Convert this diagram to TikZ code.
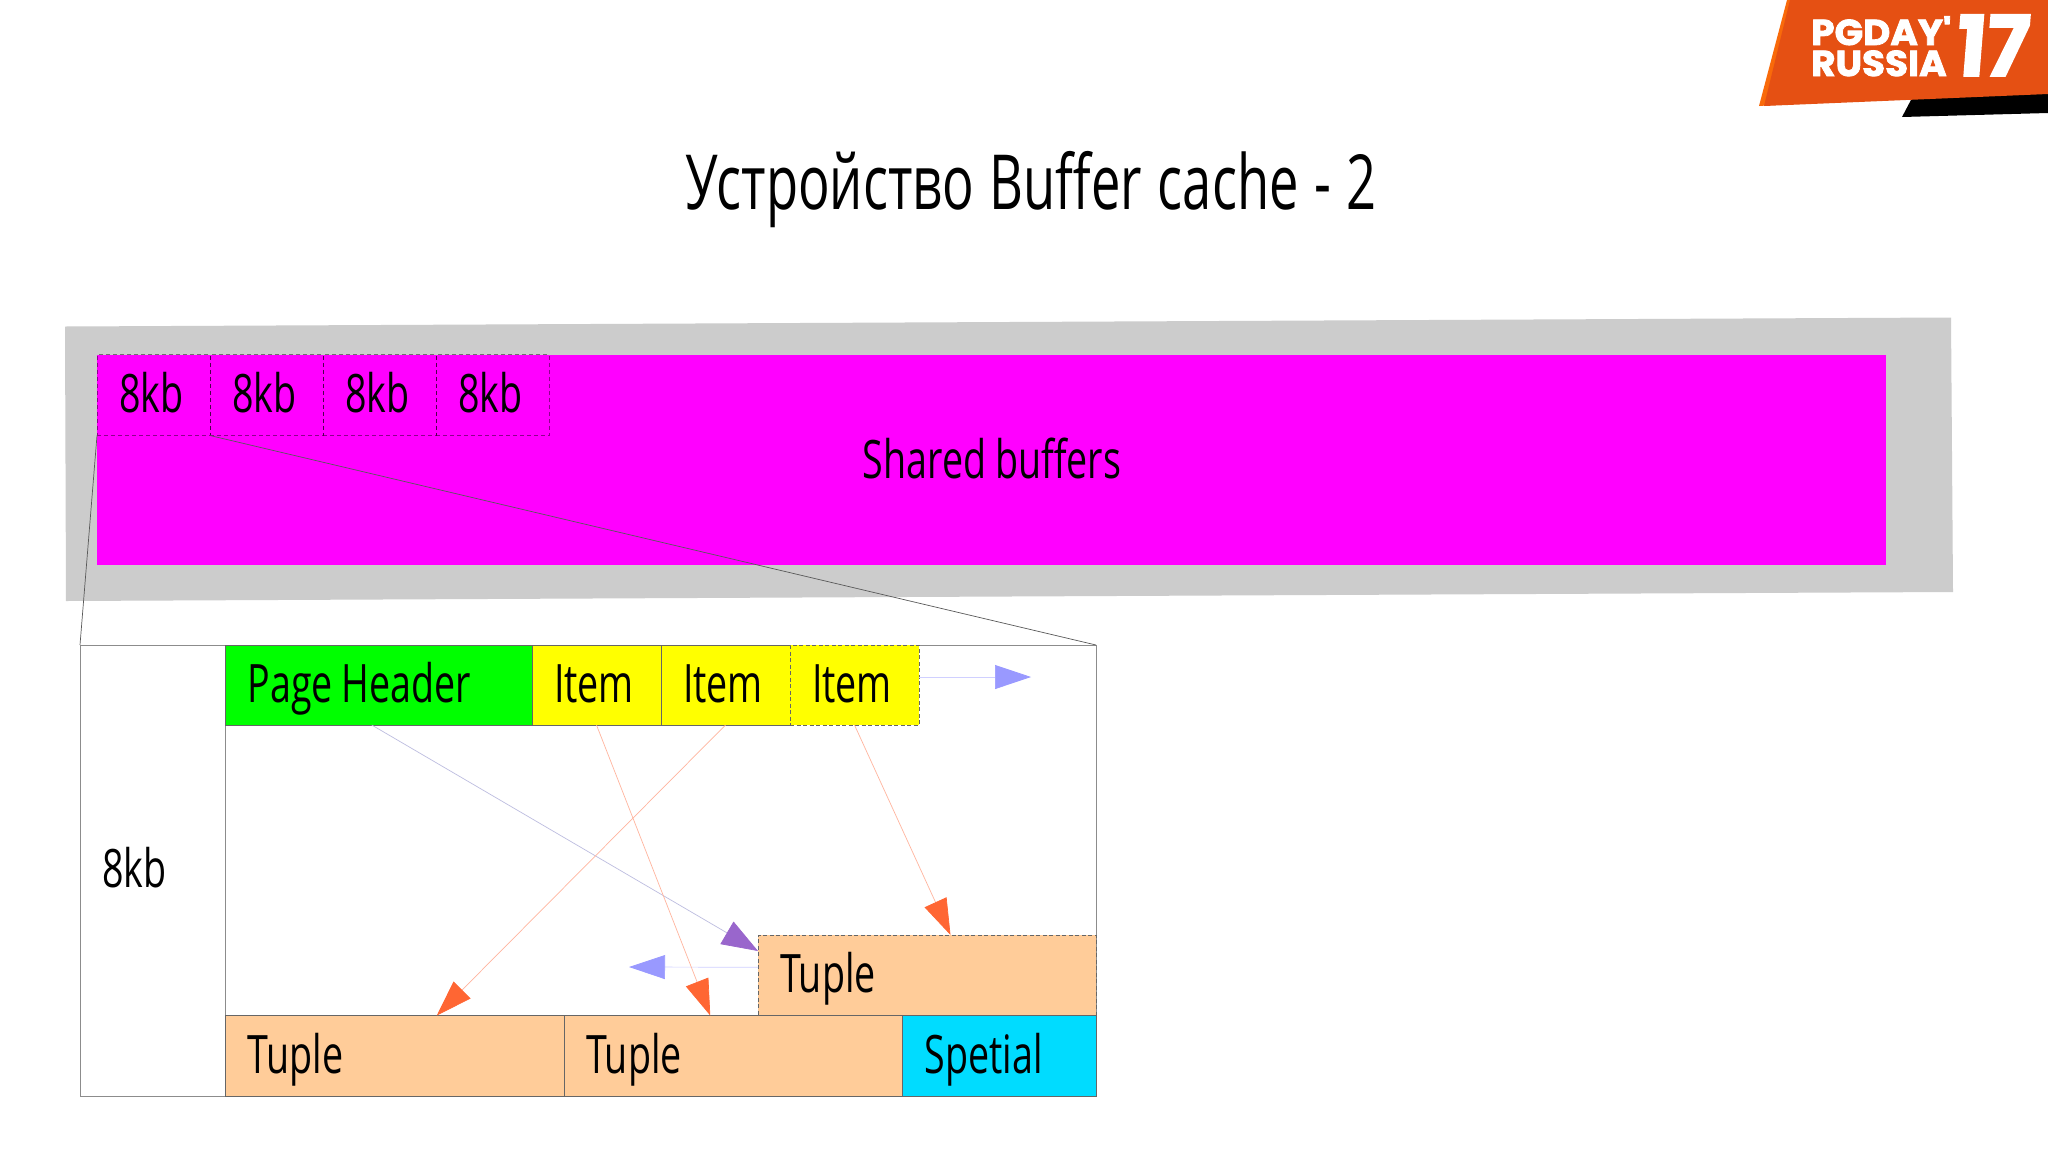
\documentclass[tikz,border=0pt]{standalone}
\usepackage{fontspec}
\usetikzlibrary{arrows.meta}
\setmainfont{Open Sans}[FakeStretch=0.71,WordSpace=0.9]
\newfontfamily\titlefont{Open Sans}[FakeStretch=0.69,WordSpace=1.15]
\newfontfamily\logofont{Poppins}[FakeStretch=1.04,BoldFeatures={FakeBold=2.2}]
\newfontfamily\logonum{Poppins}[FakeStretch=0.95,BoldFeatures={FakeBold=2.2}]
\definecolor{graybar}{HTML}{CCCCCC}
\definecolor{magentafill}{HTML}{FF00FF}
\definecolor{greenfill}{HTML}{00FF00}
\definecolor{yellowfill}{HTML}{FFFF00}
\definecolor{tuplecol}{HTML}{FFCC99}
\definecolor{spetcol}{HTML}{00DCFF}
\definecolor{logoorange}{HTML}{E55013}
\definecolor{logoedge}{HTML}{F96A0A}
\definecolor{headblue}{HTML}{9999FF}
\definecolor{headpurple}{HTML}{9966CC}
\definecolor{headorange}{HTML}{FF6633}
\definecolor{lineblue}{HTML}{D0D0FF}
\definecolor{linepurple}{HTML}{BDBDE0}
\definecolor{lineorange}{HTML}{FFB59E}
\tikzset{
  cellw/.code={\pgfmathsetlengthmacro\tw{#1-44pt}\pgfkeysalso{minimum width=#1,text width=\tw}},
  cellbox/.style={anchor=north west,outer sep=0pt,inner xsep=22pt,inner ysep=0pt,align=flush left,
    text height=37pt,text depth=2pt,font=\fontsize{53pt}{53pt}\selectfont},
  solidbox/.style={cellbox,draw=black!60,line width=0.7pt},
  dashbox/.style={cellbox,draw=black!60,line width=0.7pt,dash pattern=on 4pt off 2.5pt},
  pagecell/.style={cellbox,draw=black,draw opacity=0.45,line width=0.7pt,dash pattern=on 4pt off 3pt,
    minimum height=81pt,cellw=113pt},
  frame/.style={anchor=north west,outer sep=0pt,inner sep=0pt,draw=black!45,line width=0.8pt,minimum height=451pt},
  blueptr/.style={draw=lineblue,line width=0.7pt,-{Triangle[length=36pt,width=24pt,color=headblue]}},
  purpleptr/.style={draw=linepurple,line width=0.7pt,-{Triangle[length=36pt,width=26pt,color=headpurple]}},
  orangeptr/.style={draw=lineorange,line width=0.7pt,-{Triangle[length=36pt,width=24pt,color=headorange]}},
  zoomline/.style={draw=black!65,line width=0.7pt},
  logotext/.style={anchor=base west,inner sep=0pt,text=white},
}
\begin{document}
\begin{tikzpicture}[x=1pt,y=-1pt]
\useasboundingbox[fill=white] (0,0) rectangle (2048,1152);

% logo
\fill[logoedge] (1787,0) -- (1759,106) -- (1775,105) -- (1802,0) -- cycle;
\fill[black] (1902,117) -- (1912,98) -- (2048,90) -- (2048,113) -- cycle;
\fill[logoorange] (1790,0) -- (1764,106) -- (2048,94) -- (2048,0) -- cycle;
\node[logotext,font=\logofont\bfseries\fontsize{36pt}{36pt}\selectfont] (logoa) at (1811,45) {PGDAY'};
\node[logotext,font=\logofont\bfseries\fontsize{36pt}{36pt}\selectfont] (logob) at (1811,76) {RUSSIA};
\node[logotext,font=\logonum\bfseries\fontsize{84pt}{84pt}\selectfont,xslant=0.08] (logoc) at (1954,76) {17};

% title
\node[inner sep=0pt,font=\titlefont\fontsize{76pt}{76pt}\selectfont] (title) at (1031,190) {Устройство Buffer cache - 2};

% shared buffers
\fill[graybar] (65,326.5) -- (1951,317.5) -- (1953,592) -- (66,601) -- cycle;
\node[anchor=north west,outer sep=0pt,inner sep=0pt,fill=magentafill,minimum width=1789pt,minimum height=210pt] (shared) at (97,354.5) {};
\node[inner sep=0pt,font=\fontsize{53pt}{53pt}\selectfont] (sharedtext) at (992,458) {Shared buffers};
\node[pagecell] (c1) at (97,354.5) {8kb};
\node[pagecell] (c2) at (210,354.5) {8kb};
\node[pagecell] (c3) at (323,354.5) {8kb};
\node[pagecell] (c4) at (436,354.5) {8kb};

% page frame
\node[frame,minimum width=145.5pt] (left) at (80,645) {};
\node[frame,minimum width=870.5pt] (body) at (225.5,645) {};
\node[inner sep=0pt,anchor=base west,font=\fontsize{53pt}{53pt}\selectfont] (leftlabel) at (102,887) {8kb};

% header row
\node[solidbox,fill=greenfill,cellw=306.5pt,minimum height=80pt] (head) at (225.5,645) {Page Header};
\node[solidbox,fill=yellowfill,cellw=129pt,minimum height=80pt] (i1) at (532,645) {Item};
\node[solidbox,fill=yellowfill,cellw=129pt,minimum height=80pt] (i2) at (661,645) {Item};
\node[dashbox,fill=yellowfill,cellw=129pt,minimum height=80pt] (i3) at (790,645) {Item};

% tuples
\node[dashbox,fill=tuplecol,cellw=338pt,minimum height=80.5pt] (tc) at (758,935) {Tuple};
\node[solidbox,fill=tuplecol,cellw=338.5pt,minimum height=80.5pt] (ta) at (225.5,1015.5) {Tuple};
\node[solidbox,fill=tuplecol,cellw=338.5pt,minimum height=80.5pt] (tb) at (564,1015.5) {Tuple};
\node[solidbox,fill=spetcol,cellw=193.5pt,minimum height=80.5pt] (sp) at (902.5,1015.5) {Spetial};

% zoom lines
\draw[zoomline] (c1.south west) -- (left.north west);
\draw[zoomline] (c1.south east) -- (body.north east);

% free ends
\coordinate (freer) at (1031,677);
\coordinate (freel) at (629,967);

% pointers
\draw[blueptr] ([yshift=8pt]i3.east) -- (freer);
\draw[blueptr] ([yshift=8pt]tc.west) -- (freel);
\draw[purpleptr] ([xshift=-7pt]head.south) -- ([yshift=-16pt]tc.north west);
\draw[orangeptr] (i1.south) -- ([xshift=-23pt]tb.north);
\draw[orangeptr] (i2.south) -- ([xshift=42pt]ta.north);
\draw[orangeptr] (i3.south) -- ([xshift=23.5pt]tc.north);
\end{tikzpicture}
\end{document}
